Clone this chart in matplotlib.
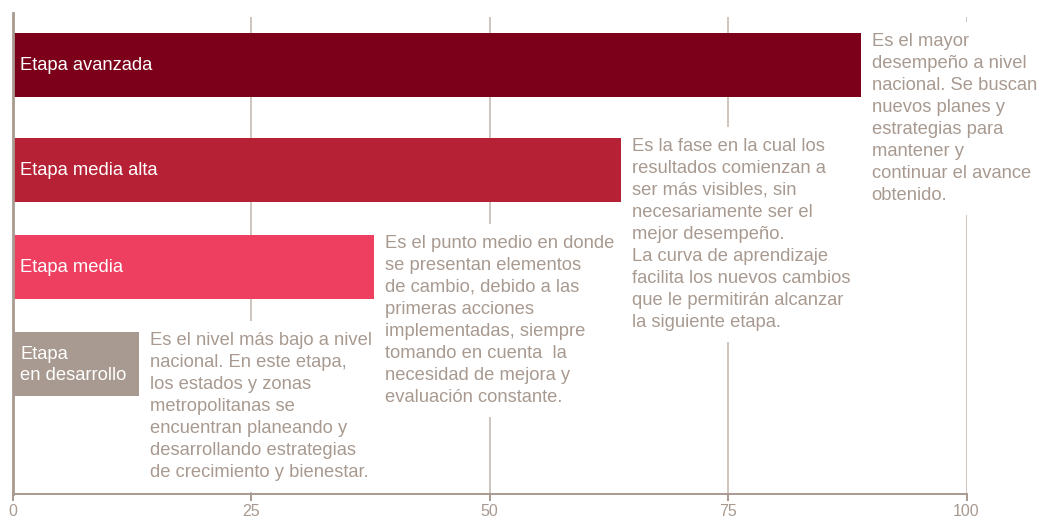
import matplotlib
matplotlib.use("Agg")
import matplotlib.pyplot as plt

# ---- data ----
categories = ["Etapa avanzada", "Etapa media alta", "Etapa media", "Etapa\nen desarrollo"]
values = [89.1, 64.0, 38.1, 13.5]
descriptions = [
    "Es el mayor\ndesempeño a nivel\nnacional. Se buscan\nnuevos planes y\nestrategias para\nmantener y\ncontinuar el avance\nobtenido.",
    "Es la fase en la cual los\nresultados comienzan a\nser más visibles, sin\nnecesariamente ser el\nmejor desempeño.\nLa curva de aprendizaje\nfacilita los nuevos cambios\nque le permitirán alcanzar\nla siguiente etapa.",
    "Es el punto medio en donde\nse presentan elementos\nde cambio, debido a las\nprimeras acciones\nimplementadas, siempre\ntomando en cuenta  la\nnecesidad de mejora y\nevaluación constante.",
    "Es el nivel más bajo a nivel\nnacional. En este etapa,\nlos estados y zonas\nmetropolitanas se\nencuentran planeando y\ndesarrollando estrategias\nde crecimiento y bienestar.",
]
xticks = [0, 25, 50, 75, 100]
xtick_labels = ["0", "25", "50", "75", "100"]

# ---- style ----
colors = ["#7d001a", "#b72136", "#ee3f61", "#a89a90"]
text_color = "#a89a90"
grid_color = "#c9c0b9"
font = "Liberation Sans"

W, H = 1045, 520
fig = plt.figure(figsize=(W / 100, H / 100), dpi=100)
x0, x1 = 12.5, 966.5
ytop, ybot = 13, 494
ax = fig.add_axes([x0 / W, 1 - ybot / H, (x1 - x0) / W, (ybot - ytop) / H])
ax.set_xlim(0, 100)
ax.set_ylim(ybot, ytop)  # y in pixel-like layout units

bar_centers = [65, 170, 267, 364]
bar_h = 64

for xv in xticks[1:]:
    ax.plot([xv, xv], [ybot, 17], color=grid_color, lw=1.3, zorder=0,
            solid_capstyle="butt")

ax.barh(bar_centers, values, height=bar_h, color=colors, zorder=2)

for c, lab in zip(bar_centers, categories):
    ax.text(0.8, c + 1, lab, color="white", fontsize=13.2, family=font,
            va="center", ha="left", linespacing=1.25, zorder=4)

for c, v, d in zip(bar_centers, values, descriptions):
    ax.annotate(d, xy=(v, c - bar_h / 2), xytext=(9, 0),
                textcoords="offset pixels", va="top", ha="left",
                fontsize=13.2, family=font, color=text_color,
                linespacing=1.38, zorder=3,
                bbox=dict(boxstyle="square,pad=0.6", fc="white", ec="none"))

for s in ["top", "right"]:
    ax.spines[s].set_visible(False)
ax.spines["left"].set_color(text_color)
ax.spines["left"].set_linewidth(2)
ax.spines["bottom"].set_color(text_color)
ax.spines["bottom"].set_linewidth(1.4)
ax.set_yticks([])
ax.set_xticks(xticks)
ax.set_xticklabels(xtick_labels, family=font, fontsize=11.5, color=text_color)
ax.tick_params(axis="x", direction="out", length=5, width=1.4,
               color=text_color, pad=2)

fig.savefig("out.png", dpi=100)
